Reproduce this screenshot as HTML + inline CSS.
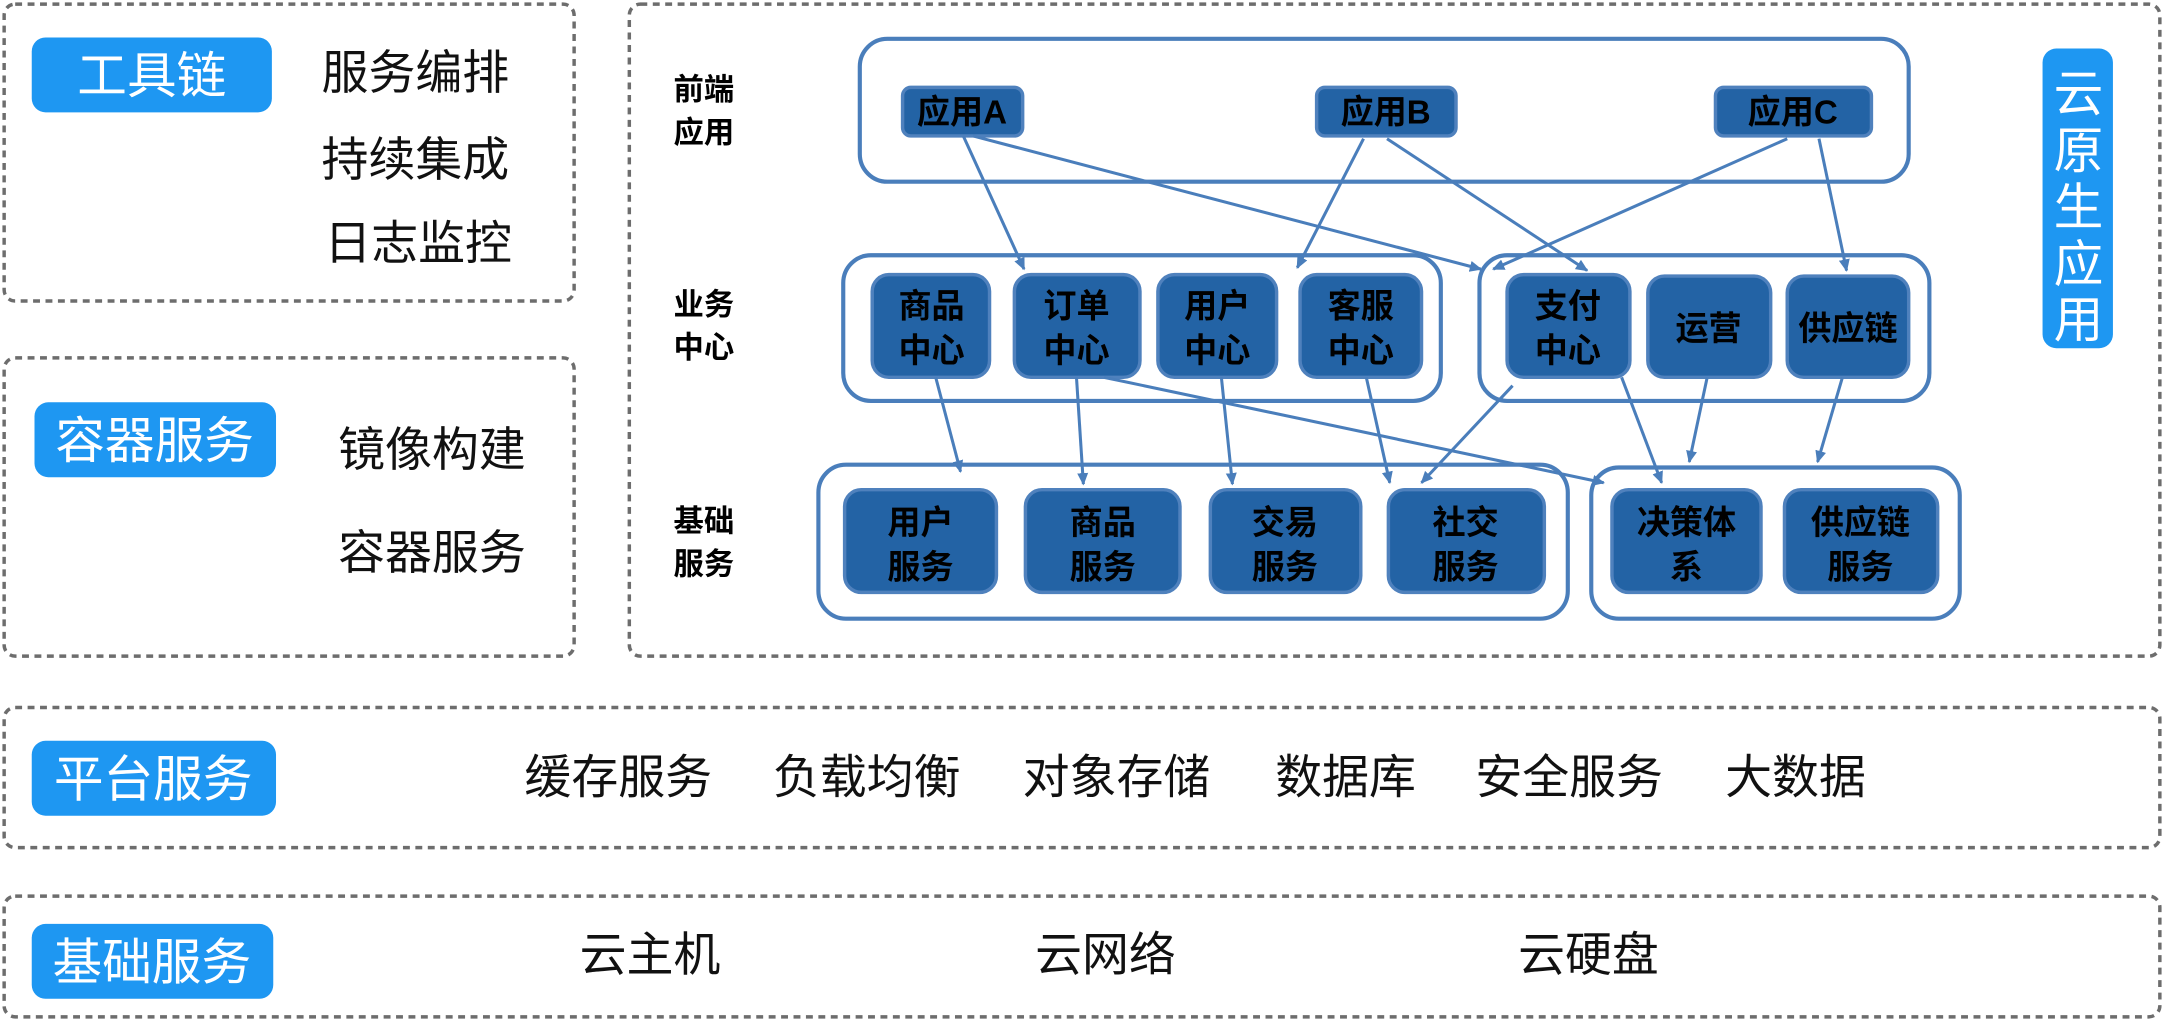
<!DOCTYPE html>
<html><head><meta charset="utf-8"><style>
html,body{margin:0;padding:0;background:#fff;width:2164px;height:1021px;overflow:hidden}
svg{display:block}
text{font-family:"Liberation Sans","Noto Sans CJK SC",sans-serif}
.d{fill:none;stroke:#6d6d6d;stroke-width:2.5;stroke-dasharray:5 4}
.g{fill:#fff;stroke:#4a7ebb;stroke-width:3}
.n{fill:#2363a5;stroke:#4f81bd;stroke-width:2.5}
.nt{font-size:24px;font-weight:bold;fill:#000;text-anchor:middle}
.lb{font-size:22px;font-weight:bold;fill:#000}
.bd{fill:#1e97f2}
.bt{font-size:36px;fill:#fff;text-anchor:middle}
.t{font-size:34px;fill:#111}
.a{stroke:#4a7ebb;stroke-width:2.2;fill:none;marker-end:url(#ar)}
</style></head><body>
<svg width="2164" height="1021" viewBox="0 0 1568 736" preserveAspectRatio="none">
<defs><marker id="ar" markerWidth="10" markerHeight="10" refX="8" refY="5" orient="auto" markerUnits="userSpaceOnUse"><path d="M0,1 L9,5 L0,9 Z" fill="#4a7ebb"/></marker></defs>
<rect class="d" x="3" y="3" width="413" height="214" rx="8"/>
<rect class="bd" x="23" y="27" width="174" height="54" rx="10"/>
<text class="bt" x="110" y="67">工具链</text>
<text class="t" x="233" y="64">服务编排</text>
<text class="t" x="233" y="127">持续集成</text>
<text class="t" x="235" y="187">日志监控</text>
<rect class="d" x="3" y="258" width="413" height="215" rx="8"/>
<rect class="bd" x="25" y="290" width="175" height="54" rx="10"/>
<text class="bt" x="112" y="330">容器服务</text>
<text class="t" x="245" y="336">镜像构建</text>
<text class="t" x="245" y="410">容器服务</text>
<rect class="d" x="456" y="3" width="1109" height="470" rx="8"/>
<text class="lb" x="488" y="72">前端</text><text class="lb" x="488" y="103">应用</text>
<text class="lb" x="488" y="227">业务</text><text class="lb" x="488" y="258">中心</text>
<text class="lb" x="488" y="383">基础</text><text class="lb" x="488" y="414">服务</text>
<rect class="g" x="623" y="28" width="760" height="103" rx="20"/>
<rect class="g" x="611" y="184" width="433" height="105" rx="20"/>
<rect class="g" x="1072" y="184" width="326" height="105" rx="20"/>
<rect class="g" x="593" y="335" width="543" height="111" rx="20"/>
<rect class="g" x="1153" y="337" width="267" height="109" rx="20"/>
<rect class="n" x="654" y="63" width="87" height="35" rx="6"/><text class="nt" x="697" y="89">应用A</text>
<rect class="n" x="954" y="63" width="101" height="35" rx="6"/><text class="nt" x="1004" y="89">应用B</text>
<rect class="n" x="1243" y="63" width="113" height="35" rx="6"/><text class="nt" x="1299" y="89">应用C</text>
<g>
<rect class="n" x="632" y="198" width="85" height="74" rx="12"/><text class="nt" x="675" y="229">商品</text><text class="nt" x="675" y="261">中心</text>
<rect class="n" x="735" y="198" width="91" height="74" rx="12"/><text class="nt" x="780" y="229">订单</text><text class="nt" x="780" y="261">中心</text>
<rect class="n" x="839" y="198" width="86" height="74" rx="12"/><text class="nt" x="882" y="229">用户</text><text class="nt" x="882" y="261">中心</text>
<rect class="n" x="942" y="198" width="88" height="74" rx="12"/><text class="nt" x="986" y="229">客服</text><text class="nt" x="986" y="261">中心</text>
<rect class="n" x="1092" y="198" width="89" height="74" rx="12"/><text class="nt" x="1136" y="229">支付</text><text class="nt" x="1136" y="261">中心</text>
<rect class="n" x="1194" y="199" width="89" height="73" rx="12"/><text class="nt" x="1238" y="245">运营</text>
<rect class="n" x="1295" y="199" width="88" height="73" rx="12"/><text class="nt" x="1339" y="245">供应链</text>
<rect class="n" x="612" y="353" width="110" height="74" rx="12"/><text class="nt" x="667" y="385">用户</text><text class="nt" x="667" y="417">服务</text>
<rect class="n" x="743" y="353" width="112" height="74" rx="12"/><text class="nt" x="799" y="385">商品</text><text class="nt" x="799" y="417">服务</text>
<rect class="n" x="877" y="353" width="109" height="74" rx="12"/><text class="nt" x="931" y="385">交易</text><text class="nt" x="931" y="417">服务</text>
<rect class="n" x="1006" y="353" width="113" height="74" rx="12"/><text class="nt" x="1062" y="385">社交</text><text class="nt" x="1062" y="417">服务</text>
<rect class="n" x="1168" y="353" width="108" height="74" rx="12"/><text class="nt" x="1222" y="385">决策体</text><text class="nt" x="1222" y="417">系</text>
<rect class="n" x="1293" y="353" width="111" height="74" rx="12"/><text class="nt" x="1348" y="385">供应链</text><text class="nt" x="1348" y="417">服务</text>
</g>
<line class="a" x1="698" y1="98" x2="742" y2="194"/>
<line class="a" x1="705" y1="98" x2="1073" y2="194"/>
<line class="a" x1="988" y1="100" x2="940" y2="193"/>
<line class="a" x1="1005" y1="100" x2="1150" y2="195"/>
<line class="a" x1="1295" y1="100" x2="1082" y2="194"/>
<line class="a" x1="1318" y1="100" x2="1338" y2="195"/>
<line class="a" x1="678" y1="272" x2="696" y2="340"/>
<line class="a" x1="780" y1="272" x2="785" y2="349"/>
<line class="a" x1="800" y1="272" x2="1162" y2="348"/>
<line class="a" x1="885" y1="272" x2="893" y2="349"/>
<line class="a" x1="990" y1="272" x2="1007" y2="348"/>
<line class="a" x1="1096" y1="278" x2="1030" y2="348"/>
<line class="a" x1="1175" y1="272" x2="1204" y2="348"/>
<line class="a" x1="1237" y1="272" x2="1224" y2="333"/>
<line class="a" x1="1335" y1="272" x2="1317" y2="333"/>
<rect class="bd" x="1480" y="35" width="51" height="216" rx="10"/>
<text class="bt" x="1506" y="80">云</text><text class="bt" x="1506" y="121">原</text><text class="bt" x="1506" y="162">生</text><text class="bt" x="1506" y="203">应</text><text class="bt" x="1506" y="243">用</text>
<rect class="d" x="3" y="510" width="1562" height="101" rx="8"/>
<rect class="bd" x="23" y="534" width="177" height="54" rx="10"/>
<text class="bt" x="111" y="574">平台服务</text>
<text class="t" x="380" y="572">缓存服务</text>
<text class="t" x="560" y="572">负载均衡</text>
<text class="t" x="741" y="572">对象存储</text>
<text class="t" x="924" y="572">数据库</text>
<text class="t" x="1069" y="572">安全服务</text>
<text class="t" x="1250" y="572">大数据</text>
<rect class="d" x="3" y="646" width="1562" height="87" rx="8"/>
<rect class="bd" x="23" y="666" width="175" height="54" rx="10"/>
<text class="bt" x="110" y="706">基础服务</text>
<text class="t" x="420" y="700">云主机</text>
<text class="t" x="750" y="700">云网络</text>
<text class="t" x="1100" y="700">云硬盘</text>
</svg>
</body></html>
